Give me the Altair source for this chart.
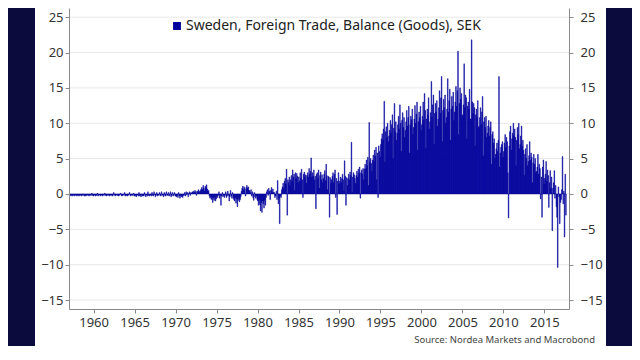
import altair as alt
import pandas as pd

# Monthly trade balance (bn SEK), starting January 1957
m1957_1959 = [
    -0.2,-0.3,-0.1,-0.2,-0.3,-0.2,-0.1,-0.3,-0.2,-0.2,-0.1,-0.3,
    -0.2,-0.1,-0.3,-0.2,-0.2,-0.1,-0.3,-0.2,0.0,-0.2,-0.3,-0.1,
    -0.3,-0.2,-0.2,-0.1,-0.2,-0.3,-0.1,-0.2,-0.2,0.1,-0.2,-0.3,
]
m1960s = [
    -0.2,-0.1,-0.3,-0.2,-0.2,0.1,-0.3,-0.2,-0.1,-0.2,-0.3,-0.1,
    -0.2,-0.3,-0.1,-0.2,0.1,-0.2,-0.3,-0.1,-0.2,-0.2,-0.1,-0.3,
    -0.2,-0.1,-0.2,-0.3,-0.2,0.2,-0.1,-0.3,-0.2,-0.1,-0.2,-0.2,
    -0.3,-0.2,-0.1,0.1,-0.2,-0.3,-0.2,-0.1,-0.2,0.2,-0.3,-0.2,
    -0.2,-0.3,-0.2,-0.1,0.2,-0.2,-0.3,-0.1,-0.2,-0.2,0.1,-0.3,
    -0.3,-0.2,-0.4,-0.2,-0.1,-0.3,0.2,-0.3,-0.2,-0.4,-0.1,-0.3,
    -0.2,-0.3,0.2,-0.2,-0.4,-0.1,-0.3,0.3,-0.2,-0.3,-0.2,-0.1,
    -0.3,0.2,-0.2,-0.3,0.3,-0.1,-0.4,-0.2,0.2,-0.3,-0.1,-0.2,
    0.2,-0.2,-0.3,0.3,-0.2,-0.1,-0.4,0.2,-0.2,-0.3,0.3,-0.2,
    -0.2,0.2,-0.3,-0.2,0.3,-0.4,-0.2,0.2,-0.3,-0.1,0.2,-0.3,
]
m1970s = [
    -0.3,-0.4,-0.2,-0.5,0.2,-0.3,-0.6,-0.2,-0.4,-0.3,-0.5,-0.2,
    -0.2,0.2,-0.3,0.3,-0.1,0.2,-0.4,0.1,0.3,-0.2,0.2,0.1,
    0.3,0.2,0.4,0.2,0.5,0.3,-0.2,0.4,0.3,0.6,0.4,0.2,
    0.5,0.7,0.9,0.6,1.2,0.8,0.4,1.1,0.9,1.3,0.7,0.4,
    0.5,-0.3,-0.6,-0.4,-0.8,-0.5,-1.2,-0.6,-0.9,-0.4,-1.0,-0.7,
    -0.3,-0.5,-0.2,0.3,-0.6,-0.2,-1.6,-0.3,0.2,-0.4,-0.2,-0.5,
    -0.2,0.3,-0.5,-0.3,0.4,-0.2,-1.0,-0.4,0.5,-0.3,-0.6,0.2,
    -0.6,-0.8,-1.0,-0.5,-1.3,-0.7,-1.8,-0.9,-0.6,-1.1,-0.8,-0.4,
    0.4,0.8,1.1,0.6,1.0,0.7,-0.3,0.9,1.2,0.8,1.0,0.5,
    0.5,0.2,0.6,-0.3,0.3,-0.5,-0.9,0.2,-0.4,-0.6,-0.3,-0.8,
]
m1980s = [
    -1.0,-1.6,-0.8,-1.5,-2.4,-1.2,-2.6,-1.0,-1.4,-2.0,-0.9,-1.6,
    -0.5,0.3,0.6,-0.2,0.8,0.4,-0.8,0.5,0.9,0.3,0.7,0.2,
    0.2,-0.5,-0.3,0.4,-0.8,1.9,-1.4,-0.6,-4.2,-0.3,-0.5,0.6,
    1.0,1.5,0.8,1.8,2.2,1.4,3.5,-3.0,2.0,1.6,2.4,1.2,
    2.0,2.6,1.8,3.4,2.4,2.8,0.5,3.0,2.2,2.9,2.5,1.6,
    2.4,1.8,3.0,2.2,3.5,2.0,-0.5,2.8,3.1,2.3,2.7,1.5,
    2.6,3.0,2.4,3.6,2.8,3.2,5.1,2.4,3.0,2.5,3.4,2.0,
    2.5,-2.1,2.8,3.0,2.2,3.4,0.8,2.6,3.1,2.0,2.7,1.6,
    2.2,2.8,3.3,1.9,4.2,2.6,0.6,2.5,2.4,-3.3,2.3,1.5,
    2.0,2.5,3.0,1.6,2.8,3.4,-0.5,2.2,-2.9,1.8,3.0,1.4,
]
m1990s = [
    1.8,2.4,1.6,2.2,2.8,2.0,0.4,4.7,2.5,-1.6,2.3,1.2,
    2.2,2.8,2.0,3.1,2.6,7.3,0.2,2.4,3.0,2.7,2.2,1.5,
    2.6,3.2,2.4,3.5,2.9,3.8,-0.6,3.0,3.4,2.8,3.6,2.0,
    3.5,4.2,3.6,4.8,4.0,5.2,1.2,10.1,4.5,5.0,4.3,3.2,
    4.8,5.5,4.6,6.2,5.4,6.6,2.0,5.8,-0.5,6.8,6.0,5.2,
    7.0,7.8,8.5,7.6,9.2,13.1,4.5,8.8,9.5,8.0,10.0,7.4,
    8.2,9.0,10.4,8.6,9.8,11.2,5.0,9.3,12.8,8.8,10.2,7.6,
    8.6,9.8,11.0,9.2,12.6,10.0,6.0,10.4,11.5,9.4,10.8,8.0,
    9.0,10.2,11.8,9.6,10.8,12.4,5.8,9.8,11.0,10.5,12.0,8.4,
    9.4,10.6,12.5,10.0,11.3,13.0,6.2,10.2,11.6,10.8,12.4,9.0,
]
m2000s = [
    9.8,11.0,13.0,10.4,14.2,11.8,6.5,10.6,12.0,11.2,13.6,9.2,
    10.2,11.5,15.9,10.8,12.6,14.0,7.0,11.4,12.8,11.6,13.2,9.6,
    10.6,12.2,14.6,11.4,13.6,16.6,7.4,11.8,13.4,12.2,14.0,10.0,
    10.8,12.0,16.3,11.6,13.2,14.8,7.6,12.0,13.8,12.4,14.4,10.4,
    11.6,13.0,15.2,12.4,14.6,20.2,8.4,12.8,15.0,13.4,14.2,11.0,
    11.2,12.6,18.4,12.2,14.0,13.6,7.8,12.4,13.0,12.0,14.8,10.6,
    10.6,21.8,13.0,11.4,12.8,12.2,6.8,11.2,12.0,10.8,13.2,9.4,
    9.6,10.8,12.2,9.8,11.6,13.8,5.4,10.2,10.8,9.4,11.0,8.0,
    8.6,9.6,10.4,8.2,9.4,10.2,4.2,8.4,8.8,7.2,7.8,5.0,
    5.6,6.4,7.2,6.0,7.6,16.6,3.8,5.8,6.6,7.0,7.4,5.2,
]
m2010s = [
    6.0,7.2,8.4,6.6,8.0,7.4,3.0,-3.4,6.8,8.8,9.6,6.2,
    7.8,8.6,10.0,8.2,9.2,8.0,4.0,7.6,9.4,8.4,10.0,6.4,
    7.0,8.2,9.6,6.8,7.6,6.2,2.6,5.6,6.4,5.0,7.0,4.0,
    4.6,5.4,7.4,4.8,5.8,5.2,1.6,4.4,5.6,4.2,5.0,3.0,
    3.2,3.8,5.6,2.8,4.2,3.6,-0.7,2.4,-3.3,3.8,4.8,1.4,
    2.2,2.8,4.6,1.8,3.4,2.6,-1.9,1.6,3.3,0.8,2.4,-5.2,
    0.8,1.6,3.3,-0.6,1.2,-1.8,-3.3,-10.4,1.0,-0.4,-4.2,-1.2,
    -0.8,0.6,5.3,-1.4,0.4,-6.1,2.8,-3.0,
]

y_ticks = [-15, -10, -5, 0, 5, 10, 15, 20, 25]
x_ticks = [1960, 1965, 1970, 1975, 1980, 1985, 1990, 1995, 2000, 2005, 2010, 2015]
series_name = "Sweden, Foreign Trade, Balance (Goods), SEK"
source_text = "Source: Nordea Markets and Macrobond"

values = m1957_1959 + m1960s + m1970s + m1980s + m1990s + m2000s + m2010s
df = pd.DataFrame({
    "t": [1957 + i / 12 for i in range(len(values))],
    "v": values,
})
df["t2"] = df["t"] + 1 / 12
df["series"] = series_name

BLUE = "#00009c"
NAVY = "#0c0b3d"
FONT = "Noto Sans"
Y_DOMAIN = [-16.27, 26.3]

# navy side strips (frame of the picture)
strip_left = alt.Chart(pd.DataFrame({"a": [0]})).mark_rect(color=NAVY).encode(
    x=alt.value(-80), x2=alt.value(-34), y=alt.value(-10), y2=alt.value(400)
)
strip_right = alt.Chart(pd.DataFrame({"a": [0]})).mark_rect(color=NAVY).encode(
    x=alt.value(537), x2=alt.value(600), y=alt.value(-10), y2=alt.value(400)
)

grid = alt.Chart(pd.DataFrame({"g": y_ticks})).mark_rule(
    color="#e8e8e8", strokeWidth=1
).encode(
    y=alt.Y("g:Q", scale=alt.Scale(domain=Y_DOMAIN, nice=False, zero=False),
            axis=alt.Axis(orient="right", values=y_ticks, title=None,
                          labelPadding=7, grid=False, zindex=1))
)

bars = alt.Chart(df).mark_rect(stroke=BLUE, strokeWidth=0.45).encode(
    x=alt.X("t:Q", scale=alt.Scale(domain=[1957, 2018], nice=False, zero=False),
            axis=alt.Axis(values=x_ticks, format="d", title=None, grid=False,
                          labelPadding=3, zindex=1)),
    x2="t2:Q",
    y=alt.Y("v:Q", scale=alt.Scale(domain=Y_DOMAIN, nice=False, zero=False),
            axis=alt.Axis(orient="left", values=y_ticks, title=None,
                          labelPadding=2, grid=False, zindex=1)),
    y2=alt.datum(0),
    color=alt.Color("series:N", scale=alt.Scale(range=[BLUE]),
                    legend=alt.Legend(orient="none", legendX=101, legendY=11,
                                      title=None, symbolType="square",
                                      symbolSize=40, labelFontSize=14,
                                      labelFont=FONT, labelColor="#222",
                                      labelOffset=2, padding=0,
                                      labelLimit=400)),
)

source = alt.Chart(pd.DataFrame({"s": [source_text]})).mark_text(
    align="right", baseline="middle", fontSize=9.5, font=FONT, color="#444"
).encode(text="s:N", x=alt.value(526), y=alt.value(332))

chart = alt.layer(grid, bars, source, strip_left, strip_right).resolve_scale(
    y="independent"
).properties(
    width=500, height=301,
    autosize=alt.AutoSizeParams(type="none"),
    padding={"left": 61, "top": 0, "right": 63, "bottom": 37},
    background="white",
).configure_view(stroke=None).configure_axis(
    labelFont=FONT, labelFontSize=13, labelColor="#333",
    domainColor="#8a8a8a", tickColor="#8a8a8a", tickSize=4,
)

chart.save("out.html", embed_options={"renderer": "svg", "actions": False})
